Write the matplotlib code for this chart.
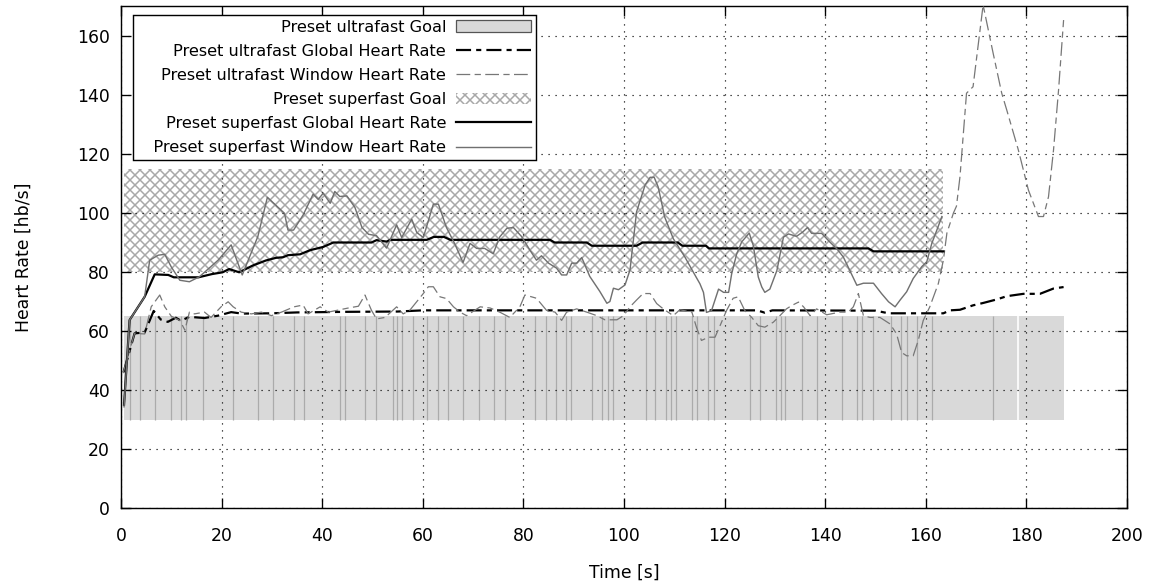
import matplotlib
matplotlib.use("Agg")
from matplotlib import pyplot as plt
from matplotlib.patches import Patch
from matplotlib.lines import Line2D

plt.rcParams['font.family'] = ['DejaVu Sans']
plt.rcParams['hatch.linewidth'] = 0.9

# goal bands [hb/s] and their time spans [s]
ultrafast_goal = (30, 65)
ultrafast_goal_span = (0.5, 187.4)
ultrafast_goal_edges = [1.7, 3.7, 6.8, 9.9, 12.0, 13.0, 16.4, 22.3, 27.2, 30.3, 34.4, 36.3,
                        43.6, 44.5, 48.6, 50.7, 54.0, 54.9, 55.9, 58.0, 60.9, 63.0, 65.0,
                        67.9, 71.2, 74.1, 76.3, 82.3, 84.4, 86.4, 88.5, 89.5, 93.6, 95.7,
                        96.9, 97.9, 104.3, 106.1, 108.3, 109.4, 110.3, 113.6, 114.6, 116.8,
                        117.8, 125.0, 127.0, 130.2, 131.2, 132.1, 135.4, 138.3, 143.3,
                        146.4, 147.4, 149.6, 153.0, 155.0, 156.2, 158.3, 161.3, 173.3]
ultrafast_goal_gaps = [178.4]
superfast_goal = (80, 115)
superfast_goal_span = (0.5, 163.4)

# ultrafast global heart rate
uf_global_t = [0.5, 2.7, 4.7, 6.5, 7.9, 9.3, 10.9, 11.9, 13.6, 16.6, 19.3, 21.9, 24.0, 30.0,
               35.0, 45.0, 55.0, 60.0, 112.0, 126.5, 128.0, 129.5, 150.0, 152.6, 163.5,
               164.8, 166.8, 169.4, 171.4, 174.1, 176.1, 179.4, 182.7, 185.4, 187.4]
uf_global_hr = [46, 59.2, 59.5, 66.8, 63.9, 63.1, 64.5, 63.5, 64.8, 64.4, 65.2, 66.4, 65.9, 66.0,
                66.3, 66.5, 66.6, 67.0, 67.0, 67.0, 66.2, 67.0, 66.9, 66.0, 66.0,
                67.0, 67.2, 68.7, 69.5, 70.7, 71.8, 72.6, 72.6, 74.4, 74.9]

# ultrafast window heart rate
uf_window_t = [0.4, 2.7, 4.7, 6.0, 7.7, 8.7, 10.0, 11.7, 12.7, 13.6, 14.6, 16.6, 17.9, 19.9,
               21.3, 22.3, 23.9, 25.9, 27.9, 29.9, 31.9, 34.4, 36.2, 37.2, 39.6, 41.2, 45.2,
               47.2, 48.5, 49.8, 50.8, 52.5, 54.8, 56.1, 57.4, 60.1, 61.1, 62.1, 63.4, 64.7,
               66.1, 67.4, 68.7, 71.4, 73.4, 75.3, 77.3, 79.3, 80.3, 81.6, 82.6, 84.6, 86.3,
               87.6, 88.6, 90.6, 92.6, 94.6, 96.2, 98.6, 99.9, 101.2, 102.5, 103.8, 105.2,
               106.5, 107.8, 109.8, 111.1, 113.5, 114.4, 115.4, 116.8, 118.1, 119.4, 120.4,
               121.7, 122.7, 124.0, 125.4, 126.7, 128.0, 129.7, 131.0, 132.3, 133.3, 134.7,
               135.7, 137.0, 138.3, 140.3, 142.9, 144.6, 145.6, 146.6, 147.6, 148.9, 150.9,
               152.9, 154.2, 155.2, 156.2, 157.5, 158.5, 159.5, 160.8, 162.5, 163.5, 164.2,
               165.5, 166.1, 166.8, 168.1, 169.4, 171.4, 173.4, 175.1, 176.1, 178.4, 180.4,
               182.4, 183.4, 184.4, 185.4, 186.4, 187.4]
uf_window_hr = [45.7, 59.2, 59.0, 68.2, 72.2, 68.2, 65.0, 63.6, 60.3, 66.4, 65.8, 66.4, 64.6, 68.2,
                69.9, 68.2, 66.4, 65.8, 66.4, 65.2, 66.4, 68.2, 68.8, 65.8, 68.2, 66.4, 67.8,
                68.4, 72.2, 67.0, 64.1, 64.6, 68.2, 65.8, 67.0, 72.7, 75.0, 75.0, 71.6, 71.0,
                68.2, 66.4, 65.2, 68.2, 67.8, 66.4, 64.6, 68.2, 72.2, 71.6, 71.1, 67.0, 66.4,
                63.6, 66.4, 67.5, 66.4, 65.2, 63.8, 63.8, 65.2, 68.2, 70.5, 72.7, 72.7,
                69.3, 67.5, 65.2, 67.2, 66.4, 61.3, 56.8, 57.9, 57.9, 63.0, 67.0,
                71.1, 71.6, 67.0, 64.6, 61.8, 61.3, 63.0, 65.2, 67.5, 68.6, 69.8,
                68.2, 65.2, 67.5, 65.5, 66.4, 66.4, 68.2, 72.7, 65.2, 64.6, 64.6,
                62.4, 59.0, 52.7, 51.6, 51.6, 56.8, 63.6, 68.2, 76.1, 84.0, 93.2,
                100.0, 102.3, 112.3, 140.6, 142.8, 170.5, 154.1, 140.6, 134.9, 121.4, 107.8,
                98.8, 98.8, 105.5, 121.4, 141.7, 165.4]

# superfast global heart rate
sf_global_t = [0.6, 1.7, 4.7, 6.7, 9.4, 10.5, 15.4, 18.1, 20.2, 21.5, 23.5, 26.2, 28.8, 30.8,
               32.2, 33.2, 35.6, 37.6, 40.2, 42.2, 49.8, 50.8, 52.8, 53.5, 60.8, 62.2, 64.2,
               65.5, 85.3, 86.2, 92.6, 93.6, 102.5, 103.7, 110.7, 111.6, 116.3, 116.9, 148.6,
               149.6, 163.5]
sf_global_hr = [35.0, 63.7, 71.6, 79.2, 79.0, 78.2, 78.2, 79.3, 79.9, 81.0, 79.9, 82.2, 83.9, 84.8,
                85.0, 85.7, 86.0, 87.4, 88.5, 90.0, 90.0, 90.8, 90.3, 90.9, 90.9, 91.9, 91.9,
                90.9, 90.9, 90.0, 90.0, 88.9, 88.9, 90.0, 90.0, 88.9, 88.9, 88.0, 88.0,
                87.0, 87.0]

# superfast window heart rate
sf_window_t = [0.6, 1.7, 4.7, 5.7, 7.4, 8.7, 10.0, 11.7, 13.6, 15.6, 19.3, 21.9, 24.1, 27.2,
               29.1, 32.5, 33.2, 34.3, 36.2, 38.2, 39.2, 40.2, 41.6, 42.5, 43.5, 44.9, 46.5,
               47.9, 49.2, 50.8, 52.8, 54.8, 55.8, 57.8, 58.8, 60.1, 62.1, 63.1, 64.7, 66.4,
               68.0, 69.4, 70.7, 72.3, 74.0, 75.3, 76.7, 78.0, 79.7, 81.3, 82.6, 83.6, 85.0,
               86.6, 87.6, 88.6, 89.6, 90.6, 91.6, 93.2, 95.2, 96.6, 97.2, 97.9, 98.9, 100.2,
               101.2, 102.5, 104.2, 105.2, 106.0, 106.8, 108.1, 109.8, 112.1, 113.8, 115.1,
               115.8, 116.4, 117.4, 118.8, 119.8, 120.8, 121.4, 122.4, 123.4, 124.9, 125.7,
               126.7, 127.4, 128.0, 129.0, 130.4, 131.7, 132.7, 134.3, 135.5, 136.5, 137.3,
               139.3, 140.9, 142.3, 143.6, 144.9, 146.3, 147.6, 149.6, 151.2, 152.6, 153.9,
               154.9, 156.2, 157.5, 159.2, 160.2, 161.2, 162.2, 163.2]
sf_window_hr = [34.3, 63.7, 71.6, 84.0, 85.7, 86.0, 81.7, 77.2, 76.7, 78.4, 84.0, 89.2, 79.0, 92.0,
                105.3, 99.9, 94.2, 94.2, 99.3, 106.4, 104.6, 106.7, 103.3, 107.3, 105.6, 105.8, 101.9,
                95.1, 92.8, 92.3, 88.1, 96.0, 91.7, 97.9, 93.4, 91.7, 103.0, 103.0, 95.1, 89.4,
                83.2, 89.7, 88.0, 88.0, 86.2, 91.9, 94.8, 95.1, 91.9, 87.4, 84.0, 85.5, 83.0,
                81.3, 79.0, 79.0, 83.0, 83.0, 84.9, 78.5, 73.4, 69.4, 70.0, 74.5, 74.0, 75.6,
                80.7, 100.4, 109.5, 112.1, 112.1, 108.8, 98.6, 91.3, 85.1, 79.9, 76.0,
                73.1, 66.3, 66.9, 74.2, 73.1, 73.1, 79.3, 86.1, 90.2, 93.2, 89.0,
                78.3, 74.9, 73.1, 74.2, 80.5, 91.8, 92.9, 92.1, 93.5, 95.1, 93.1,
                93.1, 90.2, 87.9, 85.1, 80.5, 75.5, 76.2, 76.2, 72.7, 69.9, 68.2,
                70.5, 73.3, 77.8, 81.8, 83.5, 89.7, 94.2, 98.8]

DPI = 120
fig = plt.figure(figsize=(1158 / DPI, 584 / DPI), dpi=DPI)
ax = fig.add_axes([0.1045, 0.1301, 0.8687, 0.8588])

# ultrafast goal: grey boxes
ax.fill_between(ultrafast_goal_span, ultrafast_goal[0], ultrafast_goal[1],
                facecolor="#d9d9d9", edgecolor="none", zorder=1)
ax.vlines(ultrafast_goal_edges, ultrafast_goal[0], ultrafast_goal[1],
          color="#ababab", linewidth=0.75, zorder=1.1)
ax.vlines(ultrafast_goal_gaps, ultrafast_goal[0], ultrafast_goal[1],
          color="white", linewidth=1.0, zorder=1.1)

uf_global_style = (0, (6.8, 2.3, 2.3, 2.3))
uf_window_style = (0, (11, 3.5, 5, 3.5))
ax.plot(uf_global_t, uf_global_hr, color="black", linewidth=1.33,
        linestyle=uf_global_style, zorder=3)
ax.plot(uf_window_t, uf_window_hr, color="#777777", linewidth=0.75,
        linestyle=uf_window_style, zorder=3)

# superfast goal: crosshatched box
ax.fill_between(superfast_goal_span, superfast_goal[0], superfast_goal[1],
                facecolor="white", edgecolor="#a8a8a8", hatch="xxxx", linewidth=0, zorder=1.2)
ax.plot(sf_global_t, sf_global_hr, color="black", linewidth=1.33, zorder=3)
ax.plot(sf_window_t, sf_window_hr, color="#707070", linewidth=0.85, zorder=3)

ax.set_xlim(0, 200)
ax.set_ylim(0, 170)
ax.set_xticks(range(0, 201, 20))
ax.set_yticks(range(0, 161, 20))
ax.set_axisbelow('line')
ax.grid(True, color="black", linewidth=0.7, linestyle=(0, (1, 5)))
ax.tick_params(direction="in", top=True, right=True, length=5.8, width=0.8, labelsize=10.33)
ax.tick_params(axis="x", pad=11.4)
ax.tick_params(axis="y", pad=6.7)
for s in ax.spines.values():
    s.set_linewidth(0.85)

ax.set_xlabel("Time [s]", fontsize=10.33, labelpad=11.5)
ax.set_ylabel("Heart Rate [hb/s]", fontsize=10.33, labelpad=26.8)

handles = [
    Patch(facecolor="#d9d9d9", edgecolor="#555555", linewidth=0.75),
    Line2D([], [], color="black", linewidth=1.33, linestyle=uf_global_style),
    Line2D([], [], color="#777777", linewidth=0.75, linestyle=uf_window_style),
    Patch(facecolor="white", edgecolor="#a8a8a8", hatch="xxxx", linewidth=0),
    Line2D([], [], color="black", linewidth=1.33),
    Line2D([], [], color="#707070", linewidth=0.85),
]
labels = ["Preset ultrafast Goal", "Preset ultrafast Global Heart Rate",
          "Preset ultrafast Window Heart Rate", "Preset superfast Goal",
          "Preset superfast Global Heart Rate", "   Preset superfast Window Heart Rate"]
leg = ax.legend(handles, labels, loc="upper left", bbox_to_anchor=(0.012, 0.984),
                borderaxespad=0, markerfirst=False, fancybox=False, framealpha=1,
                edgecolor="black", fontsize=9.67, handlelength=4.66, handleheight=0.75,
                labelspacing=0.57, borderpad=0.31, handletextpad=0.62)
leg.get_frame().set_linewidth(0.85)
leg.set_zorder(5)

fig.savefig("out.png", dpi=DPI)
